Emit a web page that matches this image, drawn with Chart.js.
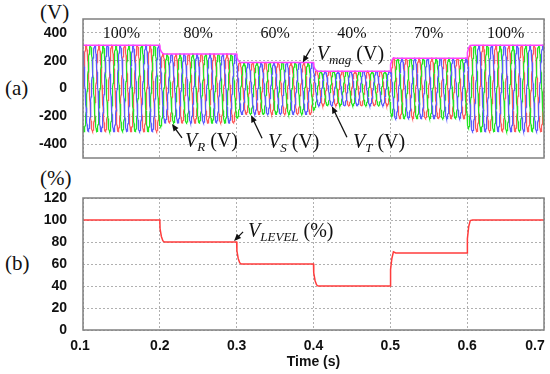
<!DOCTYPE html>
<html>
<head>
<meta charset="utf-8">
<script src="https://cdn.jsdelivr.net/npm/chart.js@4.4.1/dist/chart.umd.min.js"></script>
<style>
  body { margin:0; background:#fff; width:550px; height:374px; position:relative; overflow:hidden; }
  canvas { position:absolute; left:0; }
  .lbl { position:absolute; font-family:'Liberation Serif', serif; font-size:21px; line-height:1; color:#111; white-space:nowrap; }
</style>
</head>
<body>
<div class="lbl" style="left:40px;top:2px">(V)</div>
<div class="lbl" style="left:5px;top:78px">(a)</div>
<div class="lbl" style="left:40px;top:168px">(%)</div>
<div class="lbl" style="left:5px;top:253px">(b)</div>
<canvas id="chartA" width="550" height="170" style="top:0"></canvas>
<canvas id="chartB" width="550" height="204" style="top:170px"></canvas>
<script>
// axis ticks
const timeTicks = [0.1, 0.2, 0.3, 0.4, 0.5, 0.6, 0.7];
const voltTicks = [-400, -200, 0, 200, 400];
const levelTicks = [0, 20, 40, 60, 80, 100, 120];

// voltage level (%)
const levelTime = [0.1, 0.2, 0.2003, 0.202, 0.204, 0.206,
                   0.3, 0.3003, 0.302, 0.304, 0.306,
                   0.4, 0.4003, 0.402, 0.404, 0.406,
                   0.5, 0.5003, 0.502, 0.504, 0.507,
                   0.6, 0.6003, 0.602, 0.604, 0.607, 0.7];
const levelPct  = [100, 100, 92, 85, 81, 80,
                   80, 72, 65, 61, 60,
                   60, 52, 45, 41, 40,
                   40, 55, 65, 71, 70,
                   70, 83, 94, 99.5, 100, 100];

// section labels of panel (a)
const segLabels = ['100%', '80%', '60%', '40%', '70%', '100%'];
const segMid = [0.15, 0.25, 0.35, 0.45, 0.55, 0.65];

// three phase supply
const peakVolt = 311;      // 220 Vrms
const freqHz = 60;
const phaseDeg = [0, -120, 120];   // R, S, T

const gridColor = '#b0b0b0';
const tickFont = { family: 'Liberation Sans', size: 14, weight: 'bold' };
const serif = "'Liberation Serif', serif";

function levelAt(t) {
  for (let i = 1; i < levelTime.length; i++) {
    if (t <= levelTime[i]) {
      const k = (t - levelTime[i-1]) / (levelTime[i] - levelTime[i-1]);
      return levelPct[i-1] + k * (levelPct[i] - levelPct[i-1]);
    }
  }
  return levelPct[levelPct.length - 1];
}

function phaseWave(deg) {
  const pts = [];
  for (let n = 0; n <= 3000; n++) {
    const t = 0.1 + n * 0.0002;
    const amp = peakVolt * levelAt(t) / 100;
    pts.push({ x: t, y: amp * Math.sin(2 * Math.PI * freqHz * t + deg * Math.PI / 180) });
  }
  return pts;
}

const vmagPts = levelTime.map((t, i) => ({ x: t, y: peakVolt * levelPct[i] / 100 }));
const levelPts = levelTime.map((t, i) => ({ x: t, y: levelPct[i] }));

function xScale(showLabels) {
  return {
    type: 'linear', min: 0.1, max: 0.7,
    afterBuildTicks: s => { s.ticks = timeTicks.map(v => ({ value: v })); },
    afterFit: s => { s.height = showLabels ? 44 : 0; s.paddingLeft = 0; s.paddingRight = 0; },
    grid: { color: gridColor, drawTicks: false },
    border: { display: false, dash: [2, 2] },
    ticks: { display: showLabels, padding: 8, color: '#111', font: tickFont,
             maxRotation: 0, autoSkip: false, callback: v => v.toFixed(1) },
    title: { display: showLabels, text: 'Time (s)', color: '#111', font: tickFont,
             padding: { top: 0, bottom: 3 } }
  };
}

function yScale(min, max, list) {
  return {
    min: min, max: max,
    afterBuildTicks: s => { s.ticks = list.map(v => ({ value: v })); },
    afterFit: s => { s.width = 83; s.paddingTop = 0; s.paddingBottom = 0; },
    grid: { color: gridColor, drawTicks: false },
    border: { display: false, dash: [2, 2] },
    ticks: { padding: 16, color: '#111', font: tickFont }
  };
}

function arrow(ctx, x1, y1, x2, y2) {
  const a = Math.atan2(y2 - y1, x2 - x1);
  ctx.beginPath();
  ctx.moveTo(x1, y1);
  ctx.lineTo(x2 - 5 * Math.cos(a), y2 - 5 * Math.sin(a));
  ctx.stroke();
  ctx.beginPath();
  ctx.moveTo(x2, y2);
  ctx.lineTo(x2 - 7 * Math.cos(a) + 3 * Math.sin(a), y2 - 7 * Math.sin(a) - 3 * Math.cos(a));
  ctx.lineTo(x2 - 7 * Math.cos(a) - 3 * Math.sin(a), y2 - 7 * Math.sin(a) + 3 * Math.cos(a));
  ctx.closePath();
  ctx.fill();
}

function richText(ctx, x, y, parts) {
  ctx.textAlign = 'left';
  ctx.textBaseline = 'alphabetic';
  parts.forEach(p => {
    ctx.font = p.font;
    ctx.fillText(p.t, x, y + (p.dy || 0));
    x += ctx.measureText(p.t).width;
  });
}

function label(sub, unit) {
  return [
    { t: 'V', font: 'italic 20px ' + serif },
    { t: sub, font: 'italic 13px ' + serif, dy: 4 },
    { t: ' ' + unit, font: '20px ' + serif }
  ];
}

// arrow tip (data), tail offset (px), text offset (px)
const notesA = [
  { x: 0.386, y: 187, tail: [8, -14], text: [14, -3], parts: label('mag', '(V)') },
  { x: 0.2158, y: -255, tail: [10, 14], text: [13, 23], parts: label('R', '(V)') },
  { x: 0.3187, y: -193, tail: [11, 23], text: [17, 33], parts: label('S', '(V)') },
  { x: 0.424, y: -128, tail: [15, 31], text: [21, 42], parts: label('T', '(V)') }
];
const notesB = [
  { x: 0.2966, y: 81, tail: [9, -9], text: [14, -4], parts: label('LEVEL', '(%)') }
];

function decor(notes, withSegs) {
  return {
    id: 'decor',
    beforeDraw(chart) {
      // keep the last time label inside the page, as in the source figure
      const items = chart.scales.x.getLabelItems();
      if (items.length) items[items.length - 1].options.translation[0] = chart.chartArea.right - 9;
      if (items.length) items[0].options.translation[0] = chart.chartArea.left - 3;
    },
    afterDraw(chart) {
      const ctx = chart.ctx, a = chart.chartArea;
      const xs = chart.scales.x, ys = chart.scales.y;
      ctx.save();
      ctx.strokeStyle = '#808080';
      ctx.lineWidth = 1.5;
      ctx.strokeRect(a.left, a.top, a.right - a.left, a.bottom - a.top);
      ctx.fillStyle = '#111';
      if (withSegs) {
        ctx.font = '16px ' + serif;
        ctx.textAlign = 'center';
        ctx.textBaseline = 'middle';
        segLabels.forEach((s, i) => ctx.fillText(s, xs.getPixelForValue(segMid[i]), ys.getPixelForValue(400) + 1));
      }
      ctx.strokeStyle = '#111';
      ctx.lineWidth = 1.3;
      notes.forEach(n => {
        const px = xs.getPixelForValue(n.x), py = ys.getPixelForValue(n.y);
        arrow(ctx, px + n.tail[0], py + n.tail[1], px, py);
        richText(ctx, px + n.text[0], py + n.text[1], n.parts);
      });
      ctx.restore();
    }
  };
}

const lineStyle = { pointRadius: 0, borderWidth: 1.2, tension: 0, fill: false };

new Chart(document.getElementById('chartA'), {
  type: 'line',
  data: {
    datasets: [
      Object.assign({ label: 'Vmag', data: vmagPts, borderColor: '#ff40ff' }, lineStyle, { borderWidth: 1.5 }),
      Object.assign({ label: 'VT', data: phaseWave(phaseDeg[2]), borderColor: '#5a5aff' }, lineStyle),
      Object.assign({ label: 'VS', data: phaseWave(phaseDeg[1]), borderColor: '#22e622' }, lineStyle),
      Object.assign({ label: 'VR', data: phaseWave(phaseDeg[0]), borderColor: '#ff5a5a' }, lineStyle)
    ]
  },
  options: {
    responsive: false, animation: false, parsing: false,
    layout: { padding: { left: 0, right: 6, top: 19, bottom: 12 } },
    plugins: { legend: { display: false }, tooltip: { enabled: false } },
    scales: { x: xScale(false), y: yScale(-500, 500, voltTicks) }
  },
  plugins: [decor(notesA, true)]
});

new Chart(document.getElementById('chartB'), {
  type: 'line',
  data: {
    datasets: [
      Object.assign({ label: 'VLEVEL', data: levelPts, borderColor: '#ff3c3c' }, lineStyle, { borderWidth: 1.5 })
    ]
  },
  options: {
    responsive: false, animation: false, parsing: false,
    layout: { padding: { left: 0, right: 6, top: 28, bottom: 0 } },
    plugins: { legend: { display: false }, tooltip: { enabled: false } },
    scales: { x: xScale(true), y: yScale(0, 120, levelTicks) }
  },
  plugins: [decor(notesB, false)]
});
</script>
</body>
</html>
